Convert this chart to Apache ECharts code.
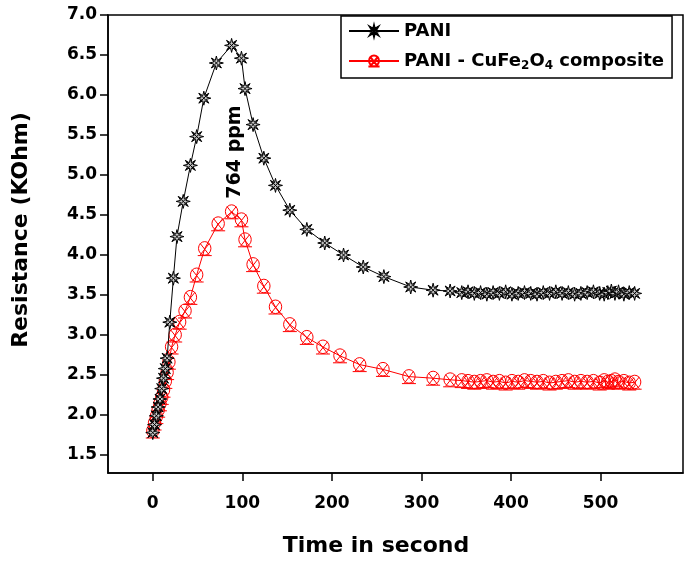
<!DOCTYPE html>
<html>
<head>
<meta charset="utf-8">
<script src="https://cdn.jsdelivr.net/npm/echarts@6/dist/echarts.min.js"></script>
<style>
html,body{margin:0;padding:0;background:#fff;}
#chart{width:685px;height:567px;}
</style>
</head>
<body>
<div id="chart"></div>
<script>
// ---- data ----
var timePANI = [0,2,4,6,8,10,12,14,16,19,23,27,34,42,49,57,71,88,99,103,112,124,137,153,172,192,213,235,258,288,313,332,
  345,352,359,366,373,380,387,394,401,408,415,422,429,436,443,450,457,464,471,478,485,492,499,504,508,512,516,520,526,532,538];
var resPANI = [1.78,1.88,1.99,2.10,2.20,2.33,2.46,2.58,2.71,3.16,3.71,4.23,4.67,5.12,5.48,5.96,6.40,6.62,6.46,6.08,5.63,5.21,4.87,4.56,4.32,4.15,4.00,3.85,3.73,3.60,3.56,3.55,
  3.53,3.54,3.52,3.53,3.51,3.53,3.52,3.54,3.51,3.52,3.53,3.52,3.51,3.53,3.52,3.54,3.52,3.53,3.51,3.52,3.53,3.54,3.52,3.51,3.53,3.55,3.52,3.54,3.51,3.53,3.52];

var timeComp = [0,2,4,6,8,10,12,14,16,18,21,25,30,36,42,49,58,73,88,99,103,112,124,137,153,172,190,209,231,257,286,313,332,
  345,352,359,366,373,380,387,394,401,408,415,422,429,436,443,450,457,464,471,478,485,492,499,504,508,512,516,520,526,532,538];
var resComp = [1.80,1.90,1.98,2.06,2.14,2.22,2.31,2.42,2.53,2.66,2.85,3.00,3.16,3.30,3.47,3.75,4.08,4.39,4.54,4.44,4.19,3.88,3.61,3.35,3.13,2.97,2.85,2.74,2.63,2.57,2.48,2.46,2.44,
  2.43,2.42,2.41,2.42,2.43,2.41,2.42,2.40,2.42,2.41,2.43,2.42,2.41,2.42,2.40,2.41,2.42,2.43,2.41,2.42,2.41,2.42,2.40,2.43,2.41,2.42,2.44,2.41,2.42,2.40,2.41];

var xTicks = [0,100,200,300,400,500];
var yTicks = [1.5,2.0,2.5,3.0,3.5,4.0,4.5,5.0,5.5,6.0,6.5,7.0];
var seriesNames = ['PANI','PANI - CuFe2O4 composite'];
var annotation = '764 ppm';

function zip(a,b){ var out=[]; for(var i=0;i<Math.min(a.length,b.length);i++){ out.push([a[i],b[i]]); } return out; }

var FONT = 'DejaVu Sans';
var starPath = 'path://M20,10 L13.7,11.53 L17.07,17.07 L11.53,13.7 L10,20 L8.47,13.7 L2.93,17.07 L6.3,11.53 L0,10 L6.3,8.47 L2.93,2.93 L8.47,6.3 L10,0 L11.53,6.3 L17.07,2.93 L13.7,8.47 Z M3,3 L17,17 M17,3 L3,17';
var crossPath = 'path://M18,10 A8,8 0 1,1 2,10 A8,8 0 1,1 18,10 Z M4,4 L16,18 M16,4 L4,18 M1,18.5 L19,18.5';

var chart = echarts.init(document.getElementById('chart'), null, {renderer:'canvas'});
var option = {
  backgroundColor:'#fff',
  animation:false,
  grid:{left:108, top:15, right:2, bottom:94, show:true, borderColor:'#000', borderWidth:1.5, backgroundColor:'transparent'},
  xAxis:{
    type:'value', min:-50, max:592,
    name:'Time in second', nameLocation:'middle', nameGap:62,
    nameTextStyle:{fontFamily:FONT, fontWeight:'bold', fontSize:22, color:'#000', padding:[0,39,0,0]},
    axisLine:{show:true, onZero:false, lineStyle:{color:'#000', width:1.5}},
    axisTick:{show:true, customValues:xTicks, length:8, inside:false, lineStyle:{color:'#000', width:1.5}},
    axisLabel:{show:true, customValues:xTicks, margin:22, fontFamily:FONT, fontWeight:'bold', fontSize:17, color:'#000'},
    splitLine:{show:false}
  },
  yAxis:{
    type:'value', min:1.275, max:7.0,
    name:'Resistance (KOhm)', nameLocation:'middle', nameGap:76,
    nameTextStyle:{fontFamily:FONT, fontWeight:'bold', fontSize:22, color:'#000', padding:[0,0,0,28]},
    axisLine:{show:true, onZero:false, lineStyle:{color:'#000', width:1.5}},
    axisTick:{show:true, customValues:yTicks, length:8, inside:false, lineStyle:{color:'#000', width:1.5}},
    axisLabel:{show:true, customValues:yTicks, margin:11, fontFamily:FONT, fontWeight:'bold', fontSize:17, color:'#000',
      formatter:function(v){ return Number(v).toFixed(1); }},
    splitLine:{show:false}
  },
  legend:{
    show:true, orient:'vertical', left:341, top:16,
    backgroundColor:'#fff', borderColor:'#000', borderWidth:1.5, borderRadius:0,
    padding:[6,8,6,7], itemGap:12, itemWidth:50, itemHeight:14,
    data:seriesNames,
    textStyle:{fontFamily:FONT, fontWeight:'bold', fontSize:18, color:'#000',
      rich:{s:{fontFamily:FONT, fontWeight:'bold', fontSize:12, color:'#000', verticalAlign:'bottom', padding:[10,0,0,0]}}},
    formatter:function(name){
      if(name === seriesNames[1]) return 'PANI - CuFe{s|2}O{s|4} composite';
      return name;
    }
  },
  graphic:[{
    type:'text', x:235, y:152, rotation:Math.PI/2, z:100,
    style:{text:annotation, font:'bold 19px "DejaVu Sans"', fill:'#000', align:'center', verticalAlign:'middle'}
  }],
  series:[
    {
      name:seriesNames[0], type:'line', data:zip(timePANI,resPANI),
      symbol:starPath, symbolSize:14, showAllSymbol:true,
      lineStyle:{color:'#000', width:1},
      itemStyle:{color:'#c8c8c8', borderColor:'#000', borderWidth:1},
      emphasis:{disabled:true}, z:3
    },
    {
      name:seriesNames[1], type:'line', data:zip(timeComp,resComp),
      symbol:crossPath, symbolSize:14, showAllSymbol:true,
      lineStyle:{color:'#ff0000', width:1},
      itemStyle:{color:'rgba(255,255,255,0)', borderColor:'#ff0000', borderWidth:1},
      emphasis:{disabled:true}, z:2
    }
  ]
};
chart.setOption(option);
</script>
</body>
</html>
